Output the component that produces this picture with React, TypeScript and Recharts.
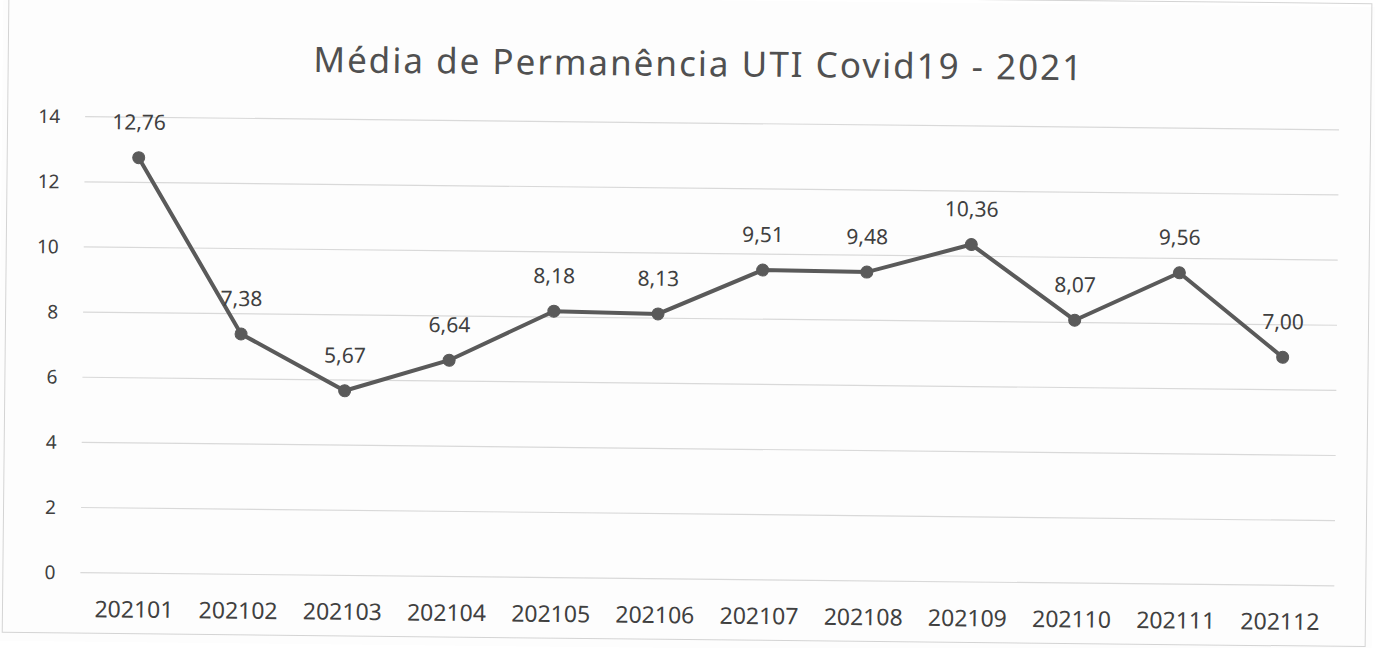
import { LineChart, Line, XAxis, YAxis, CartesianGrid, LabelList } from 'recharts';

const months = ['202101', '202102', '202103', '202104', '202105', '202106', '202107', '202108', '202109', '202110', '202111', '202112'];
const avgStay = [12.76, 7.38, 5.67, 6.64, 8.18, 8.13, 9.51, 9.48, 10.36, 8.07, 9.56, 7.0];
const yTicks = [0, 2, 4, 6, 8, 10, 12, 14];

const title = 'Média de Permanência UTI Covid19 - 2021';
const font = '"Noto Sans", "Open Sans", sans-serif';

const data = months.map((m, i) => ({ month: m, value: avgStay[i] }));

const fmt = (v: any) => Number(v).toFixed(2).replace('.', ',');

export default function App() {
  return (
    <div
      style={{
        position: 'absolute',
        left: 0,
        top: 0,
        width: 1375,
        height: 648,
        background: '#fdfdfd',
        fontFamily: font,
        transform: 'rotate(0.6deg)',
        transformOrigin: '687px 324px',
      }}
    >
      <div
        style={{
          position: 'absolute',
          left: 5,
          top: -4,
          width: 1362,
          height: 642,
          border: '1px solid #d4d4d4',
        }}
      />
      <LineChart
        width={1375}
        height={648}
        data={data}
        margin={{ top: 123, right: 38, bottom: 19, left: 0 }}
        style={{ position: 'absolute', left: 0, top: 0 }}
      >
        <CartesianGrid vertical={false} stroke="#d9d9d9" strokeWidth={1.2} />
        <XAxis
          dataKey="month"
          axisLine={false}
          tickLine={false}
          height={50}
          tickMargin={22}
          interval={0}
          padding={{ left: 54, right: 54 }}
          tick={{ fill: '#404040', fontSize: 23, fontFamily: font }}
        />
        <YAxis
          domain={[0, 14]}
          ticks={yTicks}
          width={83}
          axisLine={false}
          tickLine={false}
          tickMargin={19}
          tick={{ fill: '#404040', fontSize: 19, fontFamily: font }}
        />
        <Line
          dataKey="value"
          stroke="#5a5a5a"
          strokeWidth={4}
          dot={{ r: 6, fill: '#5a5a5a', stroke: '#5a5a5a', strokeWidth: 1 }}
          isAnimationActive={false}
        >
          <LabelList
            dataKey="value"
            position="top"
            offset={28}
            formatter={fmt}
            style={{ fill: '#404040', fontSize: 21, fontFamily: font }}
          />
        </Line>
      </LineChart>
      <svg width={1375} height={648} style={{ position: 'absolute', left: 0, top: 0, pointerEvents: 'none' }}>
        <text x={696} y={76} textAnchor="middle" fontSize={35} letterSpacing={2} fill="#505050" fontFamily={font}>
          {title}
        </text>
      </svg>
    </div>
  );
}
